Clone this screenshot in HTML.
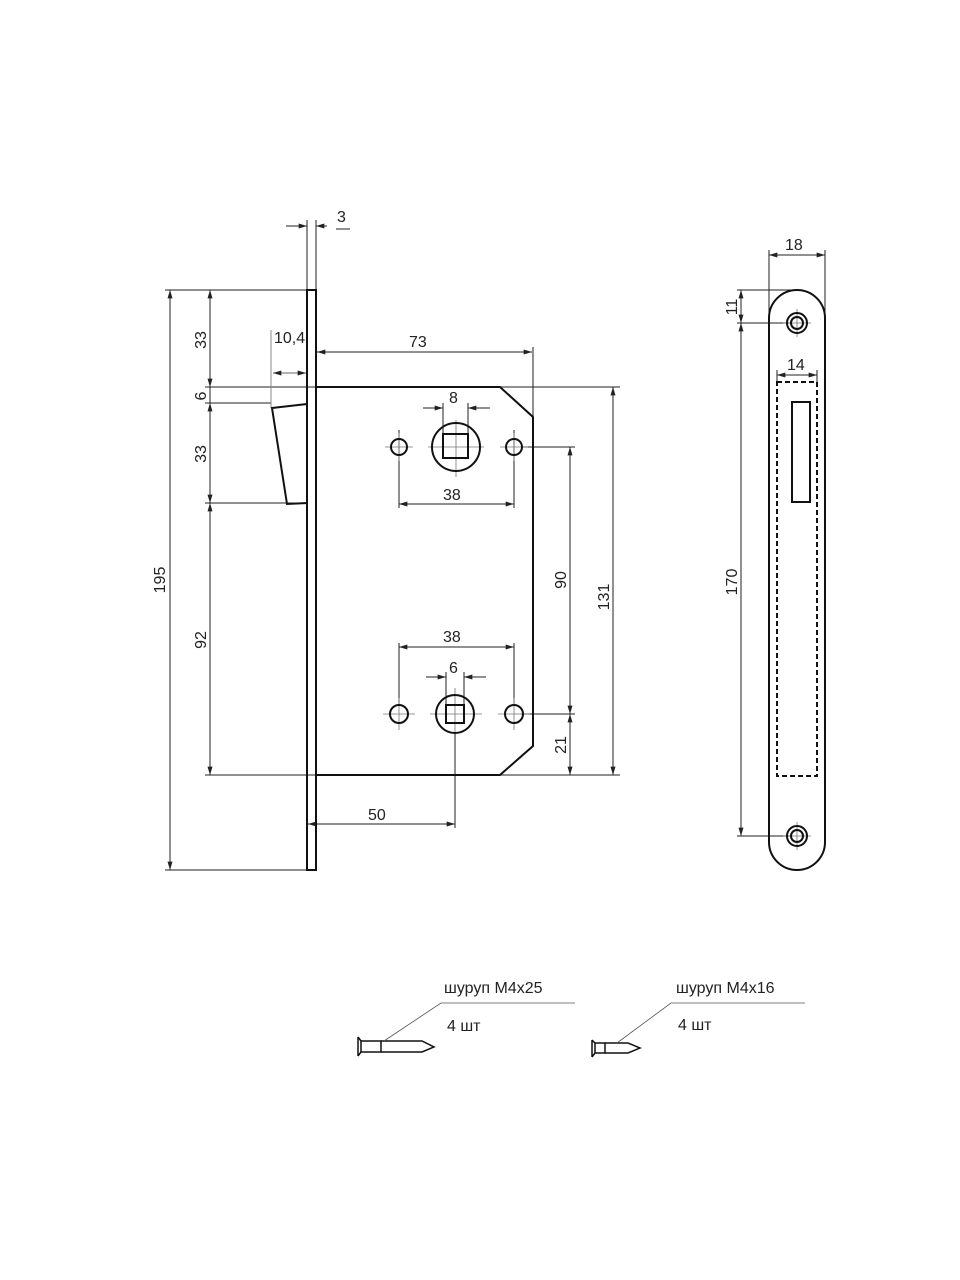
<!DOCTYPE html>
<html><head><meta charset="utf-8"><style>
html,body{margin:0;padding:0;background:#fff}
svg{display:block}
text{font-family:"Liberation Sans","DejaVu Sans",sans-serif;font-size:16px;fill:#222}
</style></head><body>
<svg width="960" height="1280" viewBox="0 0 960 1280" xmlns="http://www.w3.org/2000/svg">
<defs>
<marker id="a" viewBox="0 0 10 6" refX="10" refY="3" markerWidth="9" markerHeight="5" orient="auto-start-reverse" markerUnits="userSpaceOnUse"><path d="M0,0 L10,3 L0,6z" fill="#222"/></marker>
</defs>
<g fill="none" stroke="#222" stroke-width="1">
<!-- extension lines -->
<line x1="307" y1="220" x2="307" y2="290"/><line x1="316" y1="220" x2="316" y2="290"/>
<line x1="165" y1="290" x2="307" y2="290"/><line x1="165" y1="870" x2="307" y2="870"/>
<line x1="205" y1="387" x2="620" y2="387"/><line x1="205" y1="403" x2="271" y2="403"/>
<line x1="205" y1="503" x2="307" y2="503"/><line x1="205" y1="775" x2="620" y2="775"/>
<line x1="271" y1="330" x2="271" y2="408" stroke="#888"/>
<line x1="533" y1="347" x2="533" y2="417"/>
<line x1="399" y1="430" x2="399" y2="508"/><line x1="514" y1="430" x2="514" y2="508"/>
<line x1="443" y1="403" x2="443" y2="434"/><line x1="468" y1="403" x2="468" y2="434"/>
<line x1="521" y1="447" x2="575" y2="447"/><line x1="521" y1="714" x2="575" y2="714"/>
<line x1="399" y1="643" x2="399" y2="706"/><line x1="514" y1="643" x2="514" y2="706"/>
<line x1="446" y1="672" x2="446" y2="705"/><line x1="464" y1="672" x2="464" y2="705"/>
<line x1="455" y1="733" x2="455" y2="828"/>
<line x1="769" y1="250" x2="769" y2="330"/><line x1="825" y1="250" x2="825" y2="330"/>
<line x1="737" y1="290" x2="797" y2="290"/><line x1="737" y1="323" x2="790" y2="323"/>
<line x1="737" y1="836" x2="790" y2="836"/>
<line x1="777" y1="370" x2="777" y2="382"/><line x1="817" y1="370" x2="817" y2="382"/>
<!-- dimension lines -->
<line x1="286" y1="226" x2="307" y2="226" marker-end="url(#a)"/>
<line x1="327" y1="226" x2="316" y2="226" marker-end="url(#a)"/>
<line x1="336" y1="229" x2="350" y2="229"/>
<line x1="170" y1="290" x2="170" y2="870" marker-start="url(#a)" marker-end="url(#a)"/>
<line x1="210" y1="290" x2="210" y2="387" marker-start="url(#a)" marker-end="url(#a)"/>
<line x1="210" y1="387" x2="210" y2="403"/>
<line x1="210" y1="403" x2="210" y2="503" marker-start="url(#a)" marker-end="url(#a)"/>
<line x1="210" y1="503" x2="210" y2="775" marker-start="url(#a)" marker-end="url(#a)"/>
<line x1="273" y1="373" x2="306" y2="373" marker-start="url(#a)" marker-end="url(#a)" stroke="#666"/>
<line x1="317" y1="352" x2="532" y2="352" marker-start="url(#a)" marker-end="url(#a)"/>
<line x1="423" y1="408" x2="443" y2="408" marker-end="url(#a)"/>
<line x1="490" y1="408" x2="468" y2="408" marker-end="url(#a)"/>
<line x1="399" y1="504" x2="514" y2="504" marker-start="url(#a)" marker-end="url(#a)"/>
<line x1="570" y1="447" x2="570" y2="714" marker-start="url(#a)" marker-end="url(#a)"/>
<line x1="570" y1="714" x2="570" y2="775" marker-start="url(#a)" marker-end="url(#a)"/>
<line x1="613" y1="387" x2="613" y2="775" marker-start="url(#a)" marker-end="url(#a)"/>
<line x1="399" y1="647" x2="514" y2="647" marker-start="url(#a)" marker-end="url(#a)"/>
<line x1="426" y1="677" x2="446" y2="677" marker-end="url(#a)"/>
<line x1="486" y1="677" x2="464" y2="677" marker-end="url(#a)"/>
<line x1="308" y1="824" x2="455" y2="824" marker-start="url(#a)" marker-end="url(#a)"/>
<line x1="769" y1="255" x2="825" y2="255" marker-start="url(#a)" marker-end="url(#a)"/>
<line x1="741" y1="290" x2="741" y2="323" marker-start="url(#a)" marker-end="url(#a)"/>
<line x1="741" y1="323" x2="741" y2="836" marker-start="url(#a)" marker-end="url(#a)"/>
<line x1="777" y1="375" x2="817" y2="375" marker-start="url(#a)" marker-end="url(#a)"/>
<!-- centerlines -->
<g stroke="#777" stroke-width="0.8">
<line x1="385" y1="447" x2="413" y2="447"/><line x1="399" y1="433" x2="399" y2="461"/>
<line x1="500" y1="447" x2="528" y2="447"/><line x1="514" y1="433" x2="514" y2="461"/>
<line x1="428" y1="447" x2="484" y2="447"/><line x1="456" y1="420" x2="456" y2="477"/>
<line x1="383" y1="714" x2="415" y2="714"/><line x1="399" y1="698" x2="399" y2="730"/>
<line x1="498" y1="714" x2="530" y2="714"/><line x1="514" y1="698" x2="514" y2="730"/>
<line x1="430" y1="714" x2="482" y2="714"/><line x1="455" y1="688" x2="455" y2="733"/>
<line x1="783" y1="323" x2="811" y2="323"/><line x1="797" y1="309" x2="797" y2="337"/>
<line x1="783" y1="836" x2="811" y2="836"/><line x1="797" y1="822" x2="797" y2="850"/>
</g>
</g>
<!-- main outlines -->
<g fill="none" stroke="#111" stroke-width="2">
<rect x="307" y="290" width="9" height="580"/>
<path d="M316,387 L500,387 L533,417 L533,746 L500,775 L316,775"/>
<path d="M272,408 L307,404 L307,503 L287,504 Z"/>
<circle cx="399" cy="447" r="8"/><circle cx="514" cy="447" r="8"/>
<circle cx="456" cy="447" r="24"/><rect x="443" y="434" width="25" height="24"/>
<circle cx="399" cy="714" r="9"/><circle cx="514" cy="714" r="9"/>
<circle cx="455" cy="714" r="19"/><rect x="446" y="705" width="18" height="18"/>
<path d="M769,318 A28,28 0 0 1 825,318 L825,842 A28,28 0 0 1 769,842 Z"/>
<circle cx="797" cy="323" r="10"/><circle cx="797" cy="323" r="6"/>
<circle cx="797" cy="836" r="10"/><circle cx="797" cy="836" r="6"/>
<rect x="777" y="382" width="40" height="394" stroke-dasharray="5,3"/>
<rect x="792" y="402" width="18" height="100"/>
</g>
<!-- screws -->
<g fill="none" stroke="#111" stroke-width="1.5">
<path d="M358,1037 L358,1056 M358,1037 L361,1041 M358,1056 L361,1052"/>
<rect x="361" y="1041" width="20" height="11"/>
<path d="M381,1041 L422,1041 L434,1047 L422,1052 L381,1052"/>
<path d="M592,1040 L592,1057 M592,1040 L595,1043 M592,1057 L595,1053"/>
<rect x="595" y="1043" width="10" height="10"/>
<path d="M605,1043 L628,1043 L640,1048 L628,1053 L605,1053"/>
</g>
<g fill="none" stroke="#555" stroke-width="0.8">
<path d="M384,1041 L441,1003 L575,1003"/>
<path d="M617,1043 L671,1003 L805,1003"/>
</g>
<!-- labels -->
<text x="337" y="222">3</text>
<text x="274" y="343">10,4</text>
<text x="409" y="347">73</text>
<text x="449" y="403">8</text>
<text x="443" y="500">38</text>
<text x="443" y="642">38</text>
<text x="449" y="673">6</text>
<text x="368" y="820">50</text>
<text x="785" y="250">18</text>
<text x="787" y="370">14</text>
<text x="444" y="993">шуруп М4х25</text>
<text x="447" y="1031">4 шт</text>
<text x="676" y="993">шуруп М4х16</text>
<text x="678" y="1030">4 шт</text>
<g text-anchor="middle">
<text transform="translate(165,580) rotate(-90)">195</text>
<text transform="translate(206,340) rotate(-90)">33</text>
<text transform="translate(206,396) rotate(-90)">6</text>
<text transform="translate(206,454) rotate(-90)">33</text>
<text transform="translate(206,640) rotate(-90)">92</text>
<text transform="translate(566,580) rotate(-90)">90</text>
<text transform="translate(566,745) rotate(-90)">21</text>
<text transform="translate(609,597) rotate(-90)">131</text>
<text transform="translate(737,307) rotate(-90)">11</text>
<text transform="translate(737,582) rotate(-90)">170</text>
</g>
</svg>
</body></html>
